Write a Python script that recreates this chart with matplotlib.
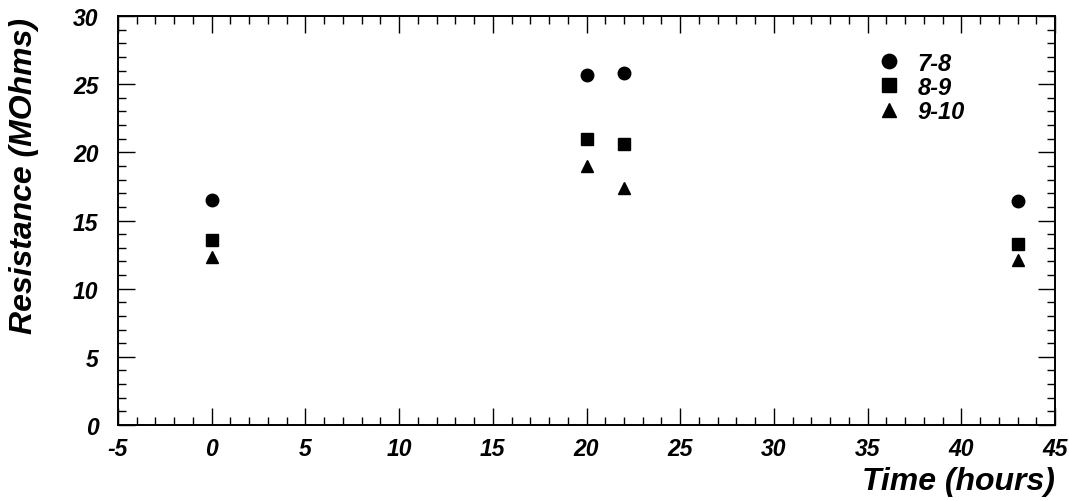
import matplotlib
matplotlib.use("Agg")
import matplotlib.pyplot as plt
from matplotlib.ticker import MultipleLocator

plt.rcParams['font.family'] = ['Liberation Sans', 'DejaVu Sans']
plt.rcParams['axes.unicode_minus'] = False

# Data
time_hours = [0, 20, 22, 43]
r_7_8 = [16.5, 25.7, 25.8, 16.4]
r_8_9 = [13.6, 21.0, 20.6, 13.3]
r_9_10 = [12.3, 19.0, 17.4, 12.1]
labels = ["7-8", "8-9", "9-10"]

fig = plt.figure(figsize=(10.69, 5.02), dpi=100)
ax = fig.add_axes([0.1104, 0.1514, 0.8765, 0.8147])

ax.plot(time_hours, r_7_8, 'o', color='black', markersize=9, label=labels[0])
ax.plot(time_hours, r_8_9, 's', color='black', markersize=8.5, label=labels[1])
ax.plot(time_hours, r_9_10, '^', color='black', markersize=9, label=labels[2])

ax.set_xlim(-5, 45)
ax.set_ylim(0, 30)
ax.xaxis.set_major_locator(MultipleLocator(5))
ax.xaxis.set_minor_locator(MultipleLocator(1))
ax.yaxis.set_major_locator(MultipleLocator(5))
ax.yaxis.set_minor_locator(MultipleLocator(1))

ax.tick_params(which='both', direction='in', top=True, right=True, width=1.0)
ax.tick_params(which='major', length=12)
ax.tick_params(which='minor', length=6)
ax.tick_params(axis='x', which='major', pad=9, labelsize=16.5)
ax.tick_params(axis='y', which='major', pad=14, labelsize=16.5)
for lab in ax.get_xticklabels() + ax.get_yticklabels():
    lab.set_fontweight('bold')
    lab.set_fontstyle('italic')

for sp in ax.spines.values():
    sp.set_linewidth(1.4)

fig.text(0.987, 0.01, "Time (hours)", ha='right', va='bottom',
         fontsize=23, fontweight='bold', fontstyle='italic')
fig.text(0.008, 0.965, "Resistance (MOhms)", ha='left', va='top', rotation=90,
         fontsize=23, fontweight='bold', fontstyle='italic')

ax.legend(frameon=False, loc='upper left', bbox_to_anchor=(0.785, 0.965),
          prop={'weight': 'bold', 'style': 'italic', 'size': 17},
          handletextpad=0.6, labelspacing=0.05, handlelength=1.2,
          markerscale=1.15)

fig.savefig("out.png", dpi=100)
